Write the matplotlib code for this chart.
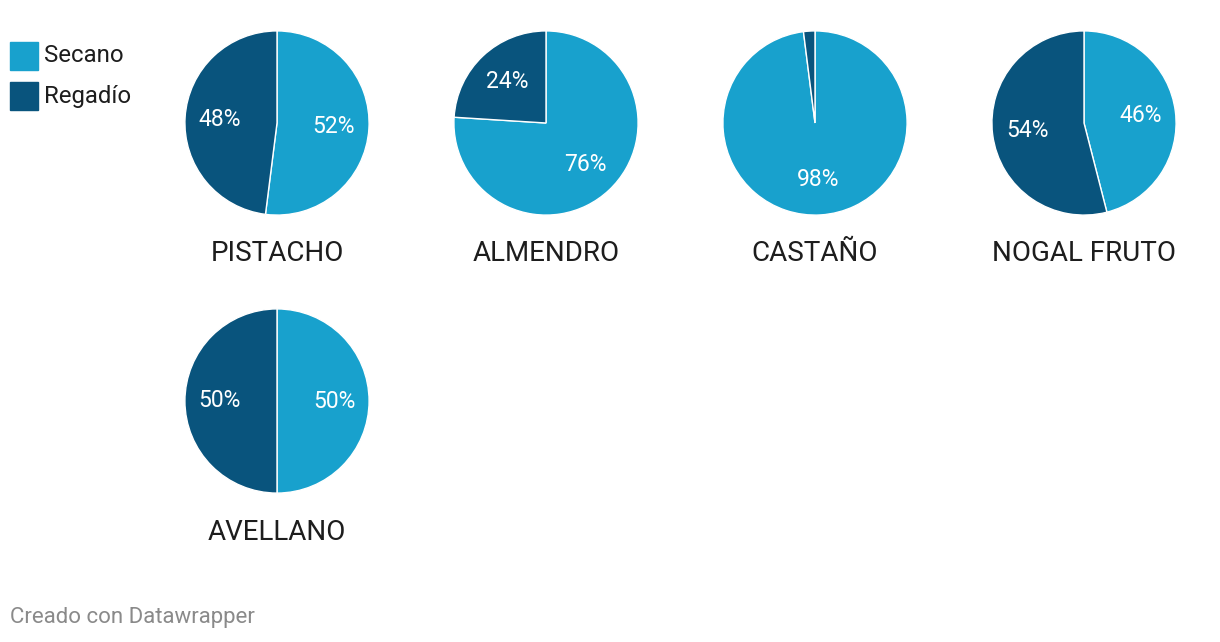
import matplotlib.pyplot as plt
from matplotlib.patches import Rectangle

plt.rcParams['font.family'] = ['Roboto', 'DejaVu Sans']

# Data
cultivos = ["PISTACHO", "ALMENDRO", "CASTAÑO", "NOGAL FRUTO", "AVELLANO"]
secano = [52, 76, 98, 46, 50]
regadio = [48, 24, 2, 54, 50]
series = ["Secano", "Regadío"]
colors = ["#18a1cd", "#09547d"]

W, H = 1220, 642
fig = plt.figure(figsize=(W / 100, H / 100), dpi=100)
fig.patch.set_facecolor("white")

r = 93  # pie radius, px
ncols = 4

def autopct(p):
    return f"{p:.0f}%" if p >= 5 else ""

for i, name in enumerate(cultivos):
    cx = 277 + 269 * (i % ncols)
    cy = 123 + 278 * (i // ncols)
    ax = fig.add_axes([(cx - r) / W, 1 - (cy + r) / H, 2 * r / W, 2 * r / H])
    ax.pie([secano[i], regadio[i]], colors=colors, startangle=90, counterclock=False,
           radius=1, autopct=autopct, pctdistance=0.62,
           wedgeprops=dict(edgecolor="white", linewidth=1),
           textprops=dict(color="white", fontsize=16.5))
    ax.set_xlim(-1.01, 1.01)
    ax.set_ylim(-1.01, 1.01)
    ax.axis("off")
    fig.text(cx / W, 1 - (cy + 131) / H, name, ha="center", va="center",
             fontsize=20, color="#1d1d1d")

# Legend
for j, s in enumerate(series):
    y = 42 + 40 * j
    fig.patches.append(Rectangle((10 / W, 1 - (y + 28) / H), 28 / W, 28 / H,
                                 transform=fig.transFigure, color=colors[j]))
    fig.text(44 / W, 1 - (y + 14) / H, s, ha="left", va="center",
             fontsize=17.3, color="#1d1d1d")

fig.text(10 / W, 1 - 618 / H, "Creado con Datawrapper", ha="left", va="center",
         fontsize=16, color="#8a8a8a")

fig.savefig("out.png", dpi=100)
